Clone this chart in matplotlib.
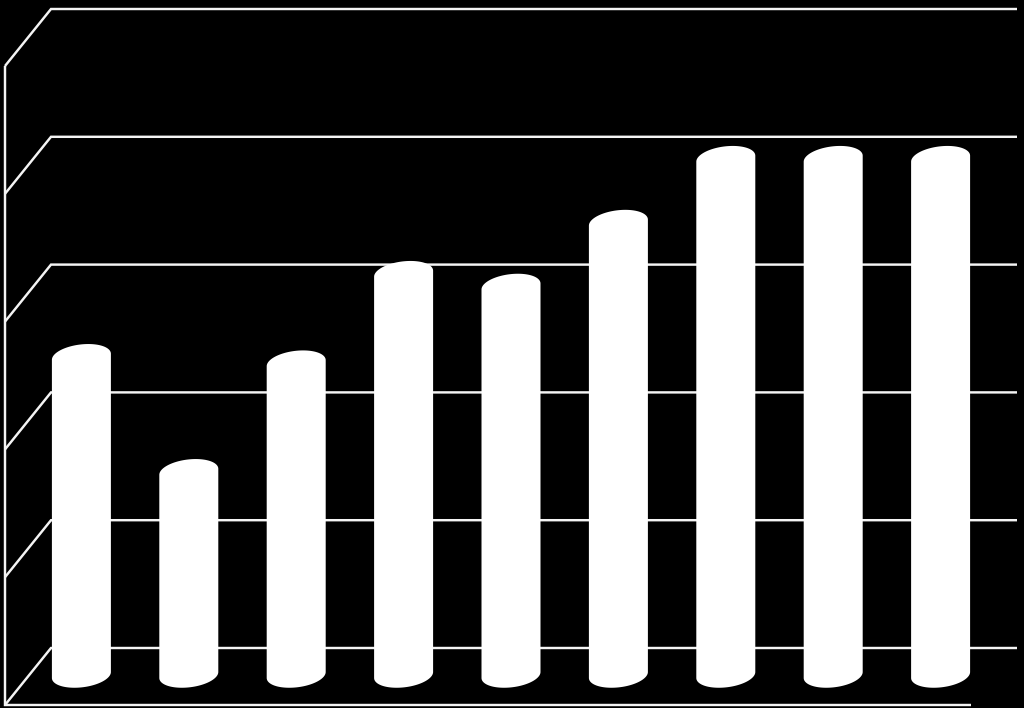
import numpy as np
import matplotlib
matplotlib.use("Agg")
import matplotlib.pyplot as plt
from matplotlib.patches import Polygon

categories = list(range(9))
values = [2.49, 1.59, 2.44, 3.14, 3.04, 3.54, 4.04, 4.04, 4.04]
grid_levels = [0, 1, 2, 3, 4, 5]

# layout (pixels in a 1024x708 figure)
W, H = 1024, 708
X0, DX = 81.4, 107.4      # first category centre, category spacing
Y0, DY = 675.0, 127.8     # bar base, pixels per unit
BAR_A, BAR_B, BAR_S = 29.5, 12.4, 3.0  # cylinder semi-width, semi-height, tilt

fig = plt.figure(figsize=(W / 100, H / 100), dpi=100, facecolor="black")
ax = fig.add_axes([0, 0, 1, 1], facecolor="black")
ax.set_xlim(-X0 / DX, (W - X0) / DX)
ax.set_ylim(-(H - Y0) / DY, Y0 / DY)
ax.axis("off")

a = BAR_A / DX
b = BAR_B / DY
s = BAR_S / DY
back_left = (51 - X0) / DX
back_right = (1017 - X0) / DX
front_left = (5 - X0) / DX
front_right = (971 - X0) / DX
back_off = (Y0 - 648) / DY      # back wall zero level relative to the bar base
front_off = (Y0 - 705) / DY     # front edge zero level relative to the bar base

line = dict(color="#f4f4f4", lw=1.75, solid_capstyle="butt", solid_joinstyle="miter", zorder=1)
for lv in grid_levels:
    ax.plot([front_left, back_left, back_right],
            [lv + front_off, lv + back_off, lv + back_off], **line)
ax.plot([front_left, front_left, front_right],
        [grid_levels[-1] + front_off, front_off, front_off], **line)

t = np.linspace(0, np.pi, 80)
for c, v in zip(categories, values):
    top_x = c + a * np.cos(t)
    top_y = v + b * np.sin(t) + s * np.cos(t)
    bot_x = c + a * np.cos(t + np.pi)
    bot_y = -b * np.sin(t) + s * np.cos(t + np.pi)
    pts = np.column_stack([np.r_[top_x, bot_x], np.r_[top_y, bot_y]])
    ax.add_patch(Polygon(pts, closed=True, facecolor="white", edgecolor="none", zorder=3))

fig.savefig("out.png", dpi=100, facecolor="black")
